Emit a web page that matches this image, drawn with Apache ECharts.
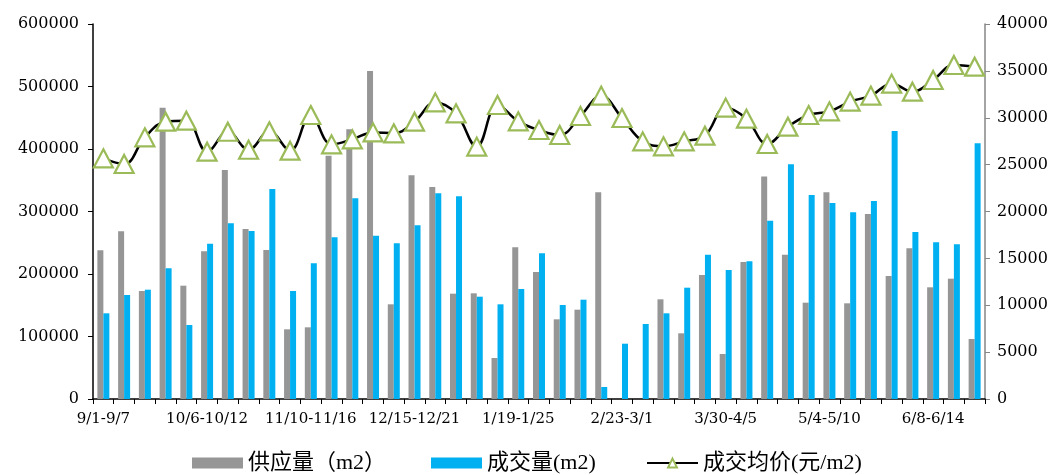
<!DOCTYPE html>
<html>
<head>
<meta charset="utf-8">
<script src="https://cdn.jsdelivr.net/npm/echarts@6/dist/echarts.min.js"></script>
<style>
html,body{margin:0;padding:0;background:#fff;}
#chart{width:1055px;height:475px;}
</style>
</head>
<body>
<div id="chart"></div>
<script>
var categories = ['9/1-9/7','9/8-9/14','9/15-9/21','9/22-9/28','9/29-10/5','10/6-10/12','10/13-10/19','10/20-10/26','10/27-11/2','11/3-11/9',
'11/10-11/16','11/17-11/23','11/24-11/30','12/1-12/7','12/8-12/14','12/15-12/21','12/22-12/28','12/29-1/4','1/5-1/11','1/12-1/18',
'1/19-1/25','1/26-2/1','2/2-2/8','2/9-2/15','2/16-2/22','2/23-3/1','3/2-3/8','3/9-3/15','3/16-3/22','3/23-3/29',
'3/30-4/5','4/6-4/12','4/13-4/19','4/20-4/26','4/27-5/3','5/4-5/10','5/11-5/17','5/18-5/24','5/25-5/31','6/1-6/7',
'6/8-6/14','6/15-6/21','6/22-6/28'];

var supply = [237900,268300,172800,466100,181300,236300,366400,272000,238400,111500,
114700,389300,431500,524800,151500,357900,339200,168500,169100,65600,
242700,203200,127500,142900,330700,0,0,159500,105100,198400,
72000,219200,356000,230900,154100,330700,153100,296000,196800,241100,
178700,192500,96000];

var deals = [137100,166400,174900,209100,118400,248500,281100,268800,336000,172800,
217100,258700,321100,261300,249100,277900,329100,324300,163700,151500,
176000,233100,150400,158900,19200,88500,120000,137100,178100,230900,
206400,220300,285300,375500,326400,313600,298700,316800,428800,267200,
250700,247500,409100];

var avgPrice = [25670,25070,27910,29580,29690,26380,28510,26590,28550,26490,
30290,27160,27700,28440,28340,29580,31640,30470,26920,31360,
29620,28690,28160,30190,32360,29970,27480,26950,27480,28090,
31080,29900,27200,29050,30290,30680,31720,32360,33640,32780,
34030,35630,35450];

var seriesNames = ['供应量（m2）','成交量(m2)','成交均价(元/m2)'];

var FONT = "'DejaVu Serif','Liberation Serif','Noto Sans CJK SC',serif";
var LFONT = "'Liberation Serif','Noto Sans CJK SC',serif";
function legendFor(name, left, icon) {
  var item = {name: name};
  if (icon) item.icon = icon;
  return {
    top: 452, left: left, itemWidth: 51, itemHeight: 11, itemGap: 5, padding: 0,
    textStyle: {fontFamily: LFONT, fontSize: 22, color: '#000'},
    data: [item]
  };
}
var chart = echarts.init(document.getElementById('chart'));
chart.setOption({
  animation: false,
  backgroundColor: '#fff',
  grid: {left: 93, right: 70, top: 24, bottom: 76, containLabel: false},
  legend: [
    legendFor(seriesNames[0], 192, 'rect'),
    legendFor(seriesNames[1], 431, 'rect'),
    legendFor(seriesNames[2], 646)
  ],
  xAxis: {
    type: 'category',
    data: categories,
    boundaryGap: true,
    axisLine: {lineStyle: {color: '#000', width: 1.5}},
    axisTick: {show: true, interval: 0, length: 5, lineStyle: {color: '#000'}},
    axisLabel: {interval: 4, color: '#000', fontFamily: FONT, fontSize: 15, margin: 13}
  },
  yAxis: [
    {
      type: 'value', min: 0, max: 600000, interval: 100000,
      splitLine: {show: false},
      axisLine: {show: true, lineStyle: {color: '#000', width: 1.5}},
      axisTick: {show: true, length: 5, lineStyle: {color: '#000'}},
      axisLabel: {color: '#000', fontFamily: FONT, fontSize: 16, margin: 14,
        formatter: function (v) { return String(v); }}
    },
    {
      type: 'value', min: 0, max: 40000, interval: 5000,
      splitLine: {show: false},
      axisLine: {show: true, lineStyle: {color: '#868686', width: 1.5}},
      axisTick: {show: true, length: 5, lineStyle: {color: '#868686'}},
      axisLabel: {color: '#000', fontFamily: FONT, fontSize: 16, margin: 12,
        formatter: function (v) { return String(v); }}
    }
  ],
  series: [
    {
      name: seriesNames[0], type: 'bar', yAxisIndex: 0,
      data: supply, barWidth: 6, barGap: '0%',
      itemStyle: {color: '#969696'}
    },
    {
      name: seriesNames[1], type: 'bar', yAxisIndex: 0,
      data: deals, barWidth: 6, barGap: '0%',
      itemStyle: {color: '#00B0F0'}
    },
    {
      name: seriesNames[2], type: 'line', yAxisIndex: 1,
      data: avgPrice, smooth: 0.4,
      symbol: 'triangle', symbolSize: [19, 18], showAllSymbol: true,
      lineStyle: {color: '#000', width: 2.5},
      itemStyle: {color: '#fff', borderColor: '#9BBB59', borderWidth: 2.2},
      z: 5
    }
  ]
});
</script>
</body>
</html>
